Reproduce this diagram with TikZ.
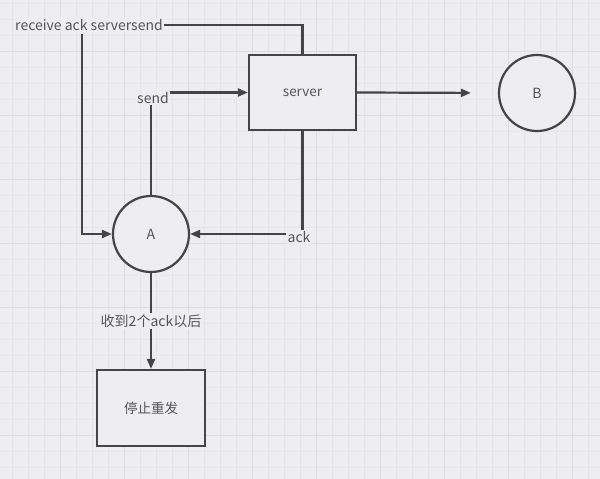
\documentclass[tikz,border=0pt]{standalone}
\usepackage{fontspec}
\newfontfamily\cjk{Noto Sans CJK SC}
\usetikzlibrary{arrows.meta}
\definecolor{bgc}{HTML}{EEEEF0}
\definecolor{gminor}{HTML}{E6E6E9}
\definecolor{gmajor}{HTML}{DCDCE0}
\definecolor{linec}{HTML}{454545}
\definecolor{textc}{HTML}{555555}
\tikzset{
  conn/.style={draw=linec, line width=2.2pt},
  arr/.style={conn, -{Triangle[length=10pt,width=8pt]}},
  lbl/.style={font=\cjk\fontsize{14}{16}\selectfont, text=textc, inner sep=1pt},
  boxnode/.style={draw=linec, line width=2.2pt, fill=bgc, minimum width=107pt, minimum height=75pt, inner sep=0pt, font=\cjk\fontsize{13.5}{15}\selectfont, text=textc},
  circnode/.style={draw=linec, line width=2.2pt, fill=bgc, circle, minimum size=76pt, inner sep=0pt, font=\cjk\fontsize{14}{16}\selectfont, text=textc},
}
\begin{document}
\begin{tikzpicture}[x=1pt,y=-1pt]
\fill[bgc] (0,0) rectangle (600,479);
\useasboundingbox (0,0) rectangle (600,479);
% minor grid
\foreach \x in {12,28,...,600} \draw[gminor, line width=0.6pt] (\x,0) -- (\x,479);
\foreach \y in {3,19,...,479} \draw[gminor, line width=0.6pt] (0,\y) -- (600,\y);
% major grid
\foreach \x in {60,124,...,600} \draw[gmajor, line width=0.8pt] (\x,0) -- (\x,479);
\foreach \y in {51,115,...,479} \draw[gmajor, line width=0.8pt] (0,\y) -- (600,\y);

\node[boxnode] (server) at (302.5,92.5) {server};
\node[circnode] (B) at (537,93) {B};
\node[circnode] (A) at (151,234) {A};
\node[boxnode, minimum width=108pt, minimum height=76pt] (stop) at (151,408) {停止重发};

\node[lbl, fill=bgc] (rec) at (89,25) {receive ack serversend};
\node[lbl, fill=bgc] (send) at (153,98) {send};
\node[lbl, fill=bgc] (ack) at (299,237) {ack};
\coordinate (cl) at (82,234);

\draw[conn] (server.north) |- (rec.east);
\draw[arr] (rec.south -| cl) ++(0,2) -- (cl) -- (A.west);
\draw[conn] (A.north) -- (send.south -| A.north);
\draw[arr] (send.east |- server.west) -- (server.west);
\draw[conn] (server.south) -- (ack.north -| server.south);
\draw[arr] (ack.west |- A.east) -- (A.east);
\draw[arr, shorten >=27pt] (server.east) -- (B.west);
\draw[arr] (A.south) -- node[lbl, fill=bgc, inner sep=2pt] {收到2个ack以后} (stop.north);
\end{tikzpicture}
\end{document}
